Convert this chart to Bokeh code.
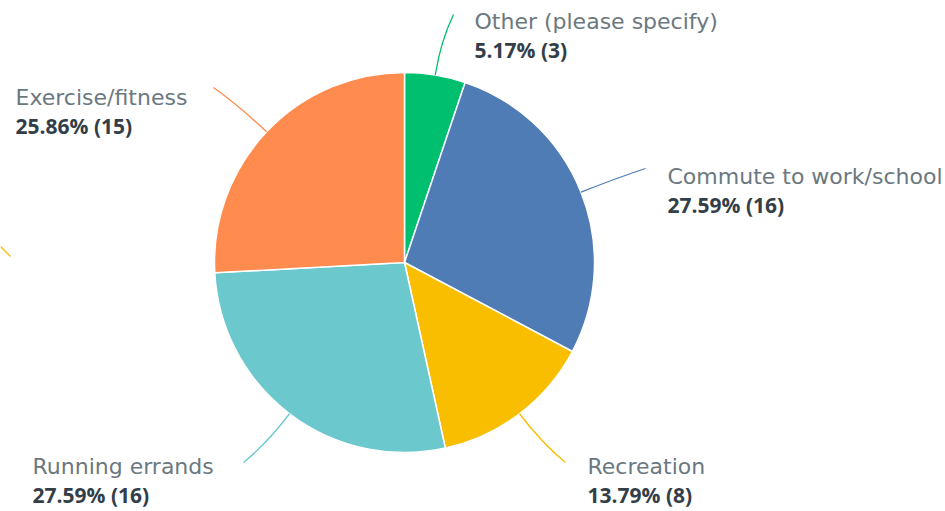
import numpy as np
from bokeh.plotting import figure
from bokeh.models import Range1d
from bokeh.core.properties import value
from bokeh.embed import file_html
from bokeh.resources import INLINE

categories = ["Other (please specify)", "Commute to work/school", "Recreation",
              "Running errands", "Exercise/fitness"]
percents = [5.17, 27.59, 13.79, 27.59, 25.86]
counts = [3, 16, 8, 16, 15]
colors = ["#00bf6f", "#507cb6", "#f9be00", "#6bc8cd", "#ff8b4f"]

W, H = 945, 511
# layout (figure pixel coordinates, origin at top-left)
CX, CY, R = 404, 262, 190
name_pos = [(474, 21), (667, 176), (587, 466), (32, 466), (15, 97)]
value_dy = 28
leader_end = [(453, 14), (645, 168), (565, 462), (243, 462), (213, 87)]

p = figure(width=W, height=H, output_backend="svg", toolbar_location=None,
           x_range=Range1d(0, W), y_range=Range1d(H, 0), min_border=0)
p.axis.visible = False
p.grid.visible = False
p.outline_line_color = None

fr = np.array(percents) / sum(percents)
cum = np.concatenate([[0], np.cumsum(fr)])
# angles are screen anticlockwise; start at top and go clockwise
starts = np.pi / 2 - 2 * np.pi * cum[1:]
ends = np.pi / 2 - 2 * np.pi * cum[:-1]
p.wedge(x=[CX] * 5, y=[CY] * 5, radius=R, start_angle=list(starts), end_angle=list(ends),
        fill_color=colors, line_color="white", line_width=1.5)

mids = (starts + ends) / 2
for i in range(5):
    sx = CX + R * np.cos(mids[i])
    sy = CY - R * np.sin(mids[i])
    ex, ey = leader_end[i]
    d = 0.55 * np.hypot(ex - sx, ey - sy)
    cx = CX + (R + d) * np.cos(mids[i])
    cy = CY - (R + d) * np.sin(mids[i])
    p.quadratic(x0=[sx], y0=[sy], x1=[ex], y1=[ey], cx=[cx], cy=[cy],
                line_color=colors[i], line_width=1.3)

# partial leader line visible at the left edge
p.line(x=[0, 10], y=[246, 256], line_color="#f9be00", line_width=1.3)

for i in range(5):
    lx, ly = name_pos[i]
    p.text(x=[lx], y=[ly], text=[categories[i]], text_font=value("DejaVu Sans"),
           text_font_size="22px", text_color="#6b7880", text_baseline="middle",
           text_align="left")
    p.text(x=[lx], y=[ly + value_dy], text=[f"{percents[i]:.2f}% ({counts[i]})"],
           text_font=value("Open Sans"), text_font_size="21px", text_font_style="bold",
           text_color="#333e48", text_baseline="middle", text_align="left")

open("out.html", "w").write(file_html(p, INLINE))
